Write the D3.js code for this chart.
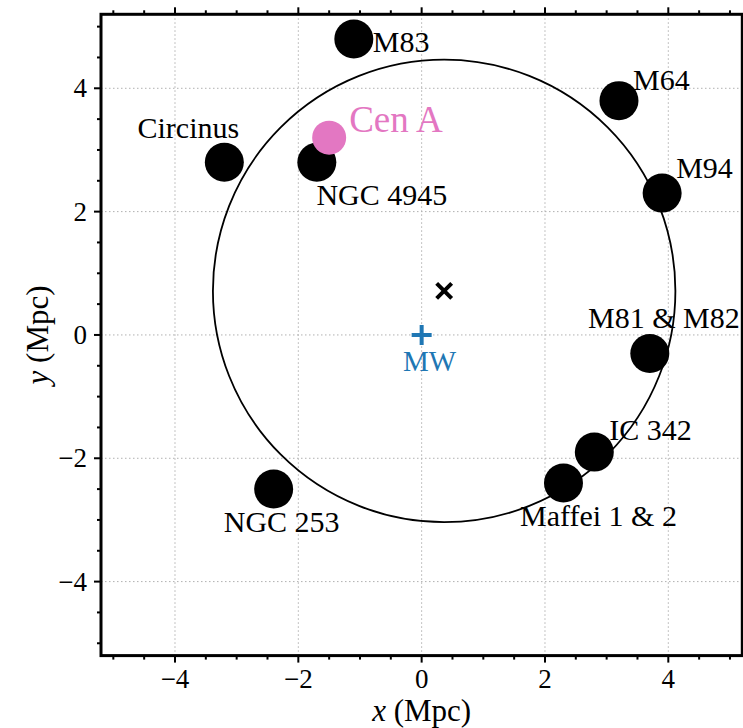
<!DOCTYPE html>
<html>
<head>
<meta charset="utf-8">
<script src="https://cdn.jsdelivr.net/npm/d3@7"></script>
</head>
<body style="margin:0">
<script>
// galaxies in the local volume (Mpc)
var galaxy_names = ['M83', 'M64', 'Circinus', 'NGC 4945', 'M94', 'M81 & M82', 'IC 342', 'Maffei 1 & 2', 'NGC 253'];
var galaxy_x = [-1.1, 3.2, -3.2, -1.7, 3.9, 3.7, 2.8, 2.3, -2.4];
var galaxy_y = [4.8, 3.8, 2.8, 2.8, 2.3, -0.3, -1.9, -2.4, -2.5];

var cen_a = { name: 'Cen A', x: -1.5, y: 3.2 };
var milky_way = { name: 'MW', x: 0, y: 0 };
var centre = { x: 0.365, y: 0.714 };
var circle_radius = 3.75;

var x_ticks = [-4, -2, 0, 2, 4];
var y_ticks = [-4, -2, 0, 2, 4];
var axis_limit = 5.2;

// label placement (pixels from the marker)
var label_style = {
	'M83': { dx: 19, dy: 13, anchor: 'start' },
	'M64': { dx: 14, dy: -11, anchor: 'start' },
	'Circinus': { dx: -36, dy: -24, anchor: 'middle' },
	'NGC 4945': { dx: 65, dy: 43, anchor: 'middle' },
	'M94': { dx: 14, dy: -15, anchor: 'start' },
	'M81 & M82': { dx: 14, dy: -25, anchor: 'middle' },
	'IC 342': { dx: 15, dy: -12, anchor: 'start' },
	'Maffei 1 & 2': { dx: 35, dy: 43, anchor: 'middle' },
	'NGC 253': { dx: 8, dy: 43, anchor: 'middle' }
};

var WIDTH = 743, HEIGHT = 728;
var MARGIN = { left: 101, top: 14.3 };
var PLOT = 641.3;
var BLUE = '#1f77b4', PINK = '#e377c2';

var svg = d3.select('body').append('svg')
	.attr('width', WIDTH)
	.attr('height', HEIGHT)
	.attr('font-family', 'Liberation Serif');

var g = svg.append('g')
	.attr('transform', 'translate(' + MARGIN.left + ',' + MARGIN.top + ')');

var x = d3.scaleLinear().domain([-axis_limit, axis_limit]).range([0, PLOT]);
var y = d3.scaleLinear().domain([-axis_limit, axis_limit]).range([PLOT, 0]);
var minor = d3.range(-5, 5.01, 0.5);

// grid
g.append('g').selectAll('line').data(x_ticks).enter().append('line')
	.attr('x1', function(d) { return x(d); })
	.attr('x2', function(d) { return x(d); })
	.attr('y1', 0).attr('y2', PLOT)
	.attr('stroke', '#b0b0b0').attr('stroke-width', 1).attr('stroke-dasharray', '1.5,2.5');
g.append('g').selectAll('line').data(y_ticks).enter().append('line')
	.attr('y1', function(d) { return y(d); })
	.attr('y2', function(d) { return y(d); })
	.attr('x1', 0).attr('x2', PLOT)
	.attr('stroke', '#b0b0b0').attr('stroke-width', 1).attr('stroke-dasharray', '1.5,2.5');

// big circle
g.append('circle')
	.attr('cx', x(centre.x))
	.attr('cy', y(centre.y))
	.attr('r', x(circle_radius) - x(0))
	.attr('fill', 'none')
	.attr('stroke', '#000')
	.attr('stroke-width', 1.8);

// galaxies
var galaxies = galaxy_names.map(function(n, i) { return { name: n, x: galaxy_x[i], y: galaxy_y[i] }; });

g.append('g').selectAll('circle').data(galaxies).enter().append('circle')
	.attr('cx', function(d) { return x(d.x); })
	.attr('cy', function(d) { return y(d.y); })
	.attr('r', 19.5);

g.append('g').selectAll('text').data(galaxies).enter().append('text')
	.attr('x', function(d) { return x(d.x) + label_style[d.name].dx; })
	.attr('y', function(d) { return y(d.y) + label_style[d.name].dy; })
	.attr('text-anchor', function(d) { return label_style[d.name].anchor; })
	.attr('font-size', 30)
	.attr('font-family', 'Liberation Serif')
	.text(function(d) { return d.name; });

// Cen A
g.append('circle')
	.attr('cx', x(cen_a.x)).attr('cy', y(cen_a.y))
	.attr('r', 17).attr('fill', PINK);
g.append('text')
	.attr('x', x(cen_a.x) + 20).attr('y', y(cen_a.y) - 6)
	.attr('font-size', 37)
	.attr('font-family', 'Liberation Serif')
	.attr('fill', PINK)
	.text(cen_a.name);

// centre cross
var cx = x(centre.x), cy = y(centre.y), s = 7.5;
g.append('path')
	.attr('d', 'M' + (cx - s) + ',' + (cy - s) + 'L' + (cx + s) + ',' + (cy + s) +
		'M' + (cx - s) + ',' + (cy + s) + 'L' + (cx + s) + ',' + (cy - s))
	.attr('stroke', '#000').attr('stroke-width', 4);

// Milky Way
var mx = x(milky_way.x), my = y(milky_way.y), p = 10;
g.append('path')
	.attr('d', 'M' + (mx - p) + ',' + my + 'L' + (mx + p) + ',' + my +
		'M' + mx + ',' + (my - p) + 'L' + mx + ',' + (my + p))
	.attr('stroke', BLUE).attr('stroke-width', 4);
g.append('text')
	.attr('x', mx + 8).attr('y', my + 36)
	.attr('text-anchor', 'middle')
	.attr('font-size', 29)
	.attr('font-family', 'Liberation Serif')
	.attr('fill', BLUE)
	.text(milky_way.name);

// ticks
function fmt(d) { return d < 0 ? '\u2212' + Math.abs(d) : String(d); }

var ticks = g.append('g');
minor.forEach(function(d) {
	var major = x_ticks.indexOf(d) >= 0;
	var len = major ? 7 : 4;
	ticks.append('line').attr('x1', x(d)).attr('x2', x(d)).attr('y1', PLOT).attr('y2', PLOT + len)
		.attr('stroke', '#000').attr('stroke-width', 2);
	ticks.append('line').attr('x1', x(d)).attr('x2', x(d)).attr('y1', 0).attr('y2', -len)
		.attr('stroke', '#000').attr('stroke-width', 2);
	ticks.append('line').attr('y1', y(d)).attr('y2', y(d)).attr('x1', 0).attr('x2', -len)
		.attr('stroke', '#000').attr('stroke-width', 2);
	ticks.append('line').attr('y1', y(d)).attr('y2', y(d)).attr('x1', PLOT).attr('x2', PLOT + len)
		.attr('stroke', '#000').attr('stroke-width', 2);
});

g.append('g').selectAll('text').data(x_ticks).enter().append('text')
	.attr('x', function(d) { return x(d); })
	.attr('y', PLOT + 32)
	.attr('text-anchor', 'middle')
	.attr('font-size', 27)
	.attr('font-family', 'Liberation Serif')
	.text(fmt);

g.append('g').selectAll('text').data(y_ticks).enter().append('text')
	.attr('x', -14)
	.attr('y', function(d) { return y(d) + 9; })
	.attr('text-anchor', 'end')
	.attr('font-size', 27)
	.attr('font-family', 'Liberation Serif')
	.text(fmt);

// frame
g.append('rect')
	.attr('width', PLOT).attr('height', PLOT)
	.attr('fill', 'none').attr('stroke', '#000').attr('stroke-width', 3);

// axis labels
var xl = svg.append('text')
	.attr('x', MARGIN.left + PLOT / 2)
	.attr('y', 721)
	.attr('text-anchor', 'middle')
	.attr('font-size', 31)
	.attr('font-family', 'Liberation Serif');
xl.append('tspan').attr('font-style', 'italic').text('x');
xl.append('tspan').text(' (Mpc)');

var yl = svg.append('text')
	.attr('transform', 'translate(48,' + (MARGIN.top + PLOT / 2) + ') rotate(-90)')
	.attr('text-anchor', 'middle')
	.attr('font-size', 31)
	.attr('font-family', 'Liberation Serif');
yl.append('tspan').attr('font-style', 'italic').text('y');
yl.append('tspan').text(' (Mpc)');
</script>
</body>
</html>
